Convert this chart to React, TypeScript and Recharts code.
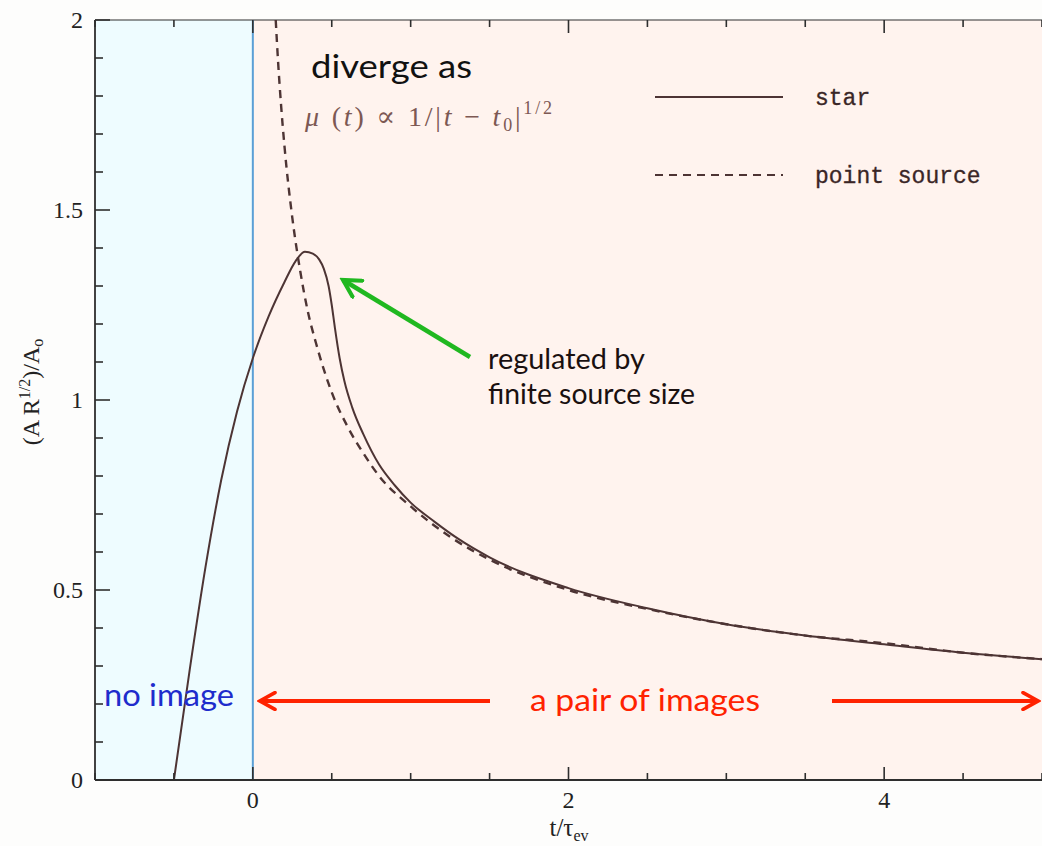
import React from 'react'
import {
  LineChart,
  Line,
  XAxis,
  YAxis,
  ReferenceArea,
  ReferenceLine,
} from 'recharts'

// star (finite source) light curve
const starT = [-0.5, -0.4, -0.3, -0.2, -0.1, 0, 0.1, 0.2, 0.27, 0.33, 0.38, 0.42, 0.45, 0.48, 0.5, 0.52, 0.55, 0.58, 0.63, 0.7, 0.8, 0.9, 1.0, 1.15, 1.3, 1.5, 2, 2.5, 3, 3.5, 4, 4.5, 5]
const starMu = [0, 0.29, 0.56, 0.79, 0.97, 1.11, 1.22, 1.31, 1.365, 1.39, 1.385, 1.37, 1.345, 1.3, 1.25, 1.19, 1.11, 1.05, 0.98, 0.91, 0.83, 0.775, 0.73, 0.68, 0.635, 0.586, 0.505, 0.452, 0.41, 0.38, 0.357, 0.335, 0.318]

// point source curve
const pointT = [0.145, 0.16, 0.18, 0.2, 0.25, 0.3, 0.35, 0.4, 0.5, 0.6, 0.7, 0.8, 1, 1.25, 1.5, 2, 2.5, 3, 3.5, 4, 4.5, 5]
const pointMu = [2.0, 1.89, 1.77, 1.67, 1.48, 1.34, 1.23, 1.15, 1.02, 0.93, 0.86, 0.8, 0.72, 0.64, 0.58, 0.5, 0.45, 0.41, 0.38, 0.36, 0.335, 0.318]

const xTicks = [-1, -0.5, 0, 0.5, 1, 1.5, 2, 2.5, 3, 3.5, 4, 4.5, 5]
const xLabels = ['0', '2', '4']
const yTicks = [0, 0.1, 0.2, 0.3, 0.4, 0.5, 0.6, 0.7, 0.8, 0.9, 1, 1.1, 1.2, 1.3, 1.4, 1.5, 1.6, 1.7, 1.8, 1.9, 2]
const yLabels = ['0', '0.5', '1', '1.5', '2']

const starData = starT.map((t, i) => ({ t, mu: starMu[i] }))
const pointData = pointT.map((t, i) => ({ t, mu: pointMu[i] }))

const W = 1042
const H = 846
const LEFT = 95
const TOP = 20
const BOTTOM = 780
const AXIS = '#2e2e2e'
const CURVE = '#4d3434'
const SERIF = '"Liberation Serif", "DejaVu Serif", serif'
const MONO = '"Liberation Mono", "DejaVu Sans Mono", monospace'
const SANS = 'Lato, "Open Sans", sans-serif'

function YTick(props: any) {
  const { y, payload } = props
  const v = payload.value
  const major = Math.abs(v * 2 - Math.round(v * 2)) < 1e-6
  const label = String(v)
  return (
    <g>
      <line x1={LEFT} x2={LEFT + (major ? 15 : 8)} y1={y} y2={y} stroke={AXIS} strokeWidth={1.6} />
      {major && yLabels.includes(label) && (
        <text x={83} y={y} dy={8} textAnchor="end" fontFamily={SERIF} fontSize={24} fill="#222">
          {label}
        </text>
      )}
    </g>
  )
}

function XTick(props: any) {
  const { x, payload } = props
  const v = payload.value
  const major = Math.abs(v / 2 - Math.round(v / 2)) < 1e-6
  const len = major ? 13 : 7
  const label = String(v)
  return (
    <g>
      <line x1={x} x2={x} y1={BOTTOM} y2={BOTTOM - len} stroke={AXIS} strokeWidth={1.6} />
      <line x1={x} x2={x} y1={TOP} y2={TOP + len} stroke={AXIS} strokeWidth={1.6} />
      {major && xLabels.includes(label) && (
        <text x={x} y={808} textAnchor="middle" fontFamily={SERIF} fontSize={24} fill="#222">
          {label}
        </text>
      )}
    </g>
  )
}

export default function App() {
  return (
    <div style={{ position: 'absolute', left: 0, top: 0, width: W, height: H, background: '#fdfdfc' }}>
      <LineChart width={W} height={H} margin={{ top: TOP, right: 0, bottom: 0, left: 0 }}>
        <ReferenceArea x1={-1} x2={0} y1={0} y2={2} fill="#eefcff" fillOpacity={1} stroke="none" />
        <ReferenceArea x1={0} x2={5} y1={0} y2={2} fill="#fff3ee" fillOpacity={1} stroke="none" />
        <XAxis
          type="number"
          dataKey="t"
          domain={[-1, 5]}
          ticks={xTicks}
          interval={0}
          allowDataOverflow
          height={H - BOTTOM}
          tickLine={false}
          axisLine={{ stroke: AXIS, strokeWidth: 1.8 }}
          tick={<XTick />}
        />
        <YAxis
          type="number"
          dataKey="mu"
          domain={[0, 2]}
          ticks={yTicks}
          interval={0}
          allowDataOverflow
          width={LEFT}
          tickLine={false}
          axisLine={{ stroke: AXIS, strokeWidth: 1.8 }}
          tick={<YTick />}
        />
        <ReferenceLine y={2} stroke={AXIS} strokeWidth={1.2} />
        <ReferenceLine x={0} stroke="#5b9fd6" strokeWidth={2} />
        <Line
          data={pointData}
          dataKey="mu"
          name="point source"
          type="monotone"
          stroke={CURVE}
          strokeWidth={2.4}
          strokeDasharray="8 6"
          dot={false}
          isAnimationActive={false}
        />
        <Line
          data={starData}
          dataKey="mu"
          name="star"
          type="monotone"
          stroke={CURVE}
          strokeWidth={2}
          dot={false}
          isAnimationActive={false}
        />
      </LineChart>

      <svg
        width={W}
        height={H}
        style={{ position: 'absolute', left: 0, top: 0, pointerEvents: 'none' }}
      >
        <defs>
          <marker id="headGreen" viewBox="0 0 12 12" refX={10} refY={6} markerWidth={5} markerHeight={5} orient="auto">
            <path d="M1,1 L10,6 L1,11" fill="none" stroke="#20b820" strokeWidth={2.2} strokeLinecap="round" />
          </marker>
          <marker id="headRed" viewBox="0 0 12 12" refX={10} refY={6} markerWidth={5} markerHeight={5} orient="auto">
            <path d="M1,1 L10,6 L1,11" fill="none" stroke="#ff2200" strokeWidth={2.2} strokeLinecap="round" />
          </marker>
        </defs>

        {/* legend */}
        <line x1={655} x2={783} y1={97} y2={97} stroke={CURVE} strokeWidth={2} />
        <text x={815} y={105} fontFamily={MONO} fontSize={23} fill="#3a2626" stroke="#3a2626" strokeWidth={0.3}>star</text>
        <line x1={655} x2={783} y1={175} y2={175} stroke={CURVE} strokeWidth={2} strokeDasharray="8 6" />
        <text x={815} y={183} fontFamily={MONO} fontSize={23} fill="#3a2626" stroke="#3a2626" strokeWidth={0.3}>point source</text>

        {/* axis titles */}
        <text
          transform="translate(39,392) rotate(-90)"
          textAnchor="middle"
          fontFamily={SERIF}
          fontSize={24}
          fill="#222"
        >
          (A R<tspan dy={-9} fontSize={16}>1/2</tspan><tspan dy={9}>)/A</tspan>
          <tspan dy={4} fontSize={16}>o</tspan>
        </text>
        <text x={569} y={836} textAnchor="middle" fontFamily={SERIF} fontSize={25} fill="#222">
          t/τ<tspan dy={5} fontSize={16}>ev</tspan>
        </text>

        {/* annotations */}
        <text x={311} y={78} fontFamily={SANS} fontSize={32} textLength={161} lengthAdjust="spacingAndGlyphs" fill="#111">diverge as</text>
        <text x={305} y={126} fontFamily={SERIF} fontSize={28} fill="#7d5853" textLength={247} lengthAdjust="spacing">
          <tspan fontStyle="italic">μ</tspan> (<tspan fontStyle="italic">t</tspan>) ∝ 1/|<tspan fontStyle="italic">t</tspan> − <tspan fontStyle="italic">t</tspan>
          <tspan dy={5} fontSize={18}>0</tspan>
          <tspan dy={-5}>|</tspan>
          <tspan dy={-12} fontSize={18}>1/2</tspan>
        </text>

        <line x1={470} y1={357} x2={343} y2={280} stroke="#20b820" strokeWidth={4.5} markerEnd="url(#headGreen)" />
        <text x={488} y={369} fontFamily={SANS} fontSize={28} textLength={157} lengthAdjust="spacingAndGlyphs" fill="#1a1010">regulated by</text>
        <text x={488} y={404} fontFamily={SANS} fontSize={28} textLength={207} lengthAdjust="spacingAndGlyphs" fill="#1a1010">finite source size</text>

        <text x={104} y={706} fontFamily={SANS} fontSize={31} textLength={130} lengthAdjust="spacingAndGlyphs" fill="#1e2ccc">no image</text>
        <line x1={490} y1={701} x2={260} y2={701} stroke="#ff2200" strokeWidth={4} markerEnd="url(#headRed)" />
        <text x={530} y={711} fontFamily={SANS} fontSize={31} textLength={230} lengthAdjust="spacingAndGlyphs" fill="#ff2200">a pair of images</text>
        <line x1={832} y1={701} x2={1038} y2={701} stroke="#ff2200" strokeWidth={4} markerEnd="url(#headRed)" />
      </svg>
    </div>
  )
}
